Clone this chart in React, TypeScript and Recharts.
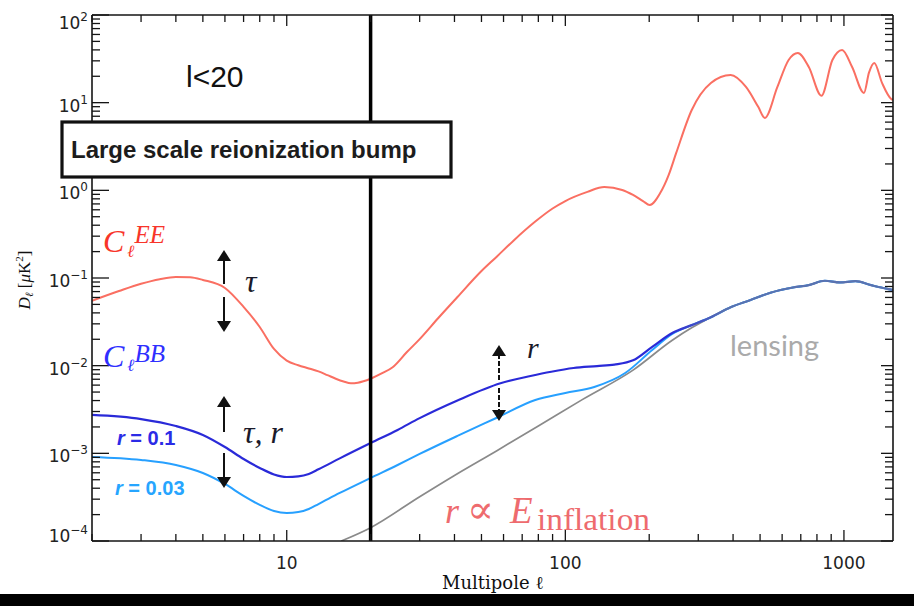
import React from 'react';
import { LineChart, Line, XAxis, YAxis, ReferenceLine } from 'recharts';

// ---------- data (multipole ell, D_ell in muK^2) ----------
const eeEll = [2, 2.5, 3, 3.5, 4, 4.5, 5, 6, 7, 8, 9, 10, 11, 12, 13, 14, 15, 16, 17, 18, 20, 22, 24, 27, 30, 35, 41, 50, 56.6, 65, 78, 90, 100, 120, 138, 160, 175, 190, 201, 219, 235, 250, 284, 333, 392, 445, 493, 520, 577, 633, 683, 748, 830, 909, 985, 1070, 1180, 1230, 1285, 1370, 1480, 1500];
const eeVal = [0.055, 0.071, 0.086, 0.097, 0.103, 0.102, 0.095, 0.077, 0.0468, 0.0276, 0.0155, 0.0114, 0.0101, 0.0093, 0.0086, 0.0078, 0.0071, 0.0066, 0.0063, 0.0064, 0.0071, 0.0082, 0.0096, 0.0143, 0.0201, 0.035, 0.0607, 0.120, 0.174, 0.265, 0.44, 0.62, 0.755, 0.96, 1.09, 1.01, 0.885, 0.755, 0.68, 0.93, 1.5, 2.67, 8.2, 16.8, 20.7, 15.1, 8.9, 6.7, 15.1, 30.7, 36.9, 25.5, 12.0, 30.7, 40, 25.5, 12.9, 22, 28.4, 16.8, 11.0, 10.8];

const bb01Ell = [2, 3, 4, 5, 6, 7, 8, 9, 10, 11, 12, 13, 15.5, 20, 25, 30, 41, 58.5, 75, 89, 107, 130, 150, 175, 205, 242, 284, 333, 392, 460, 545, 657, 748, 854, 967, 1100, 1250, 1330, 1500];
const bb01Val = [0.00274, 0.00246, 0.00205, 0.00162, 0.00118, 0.000863, 0.000681, 0.000574, 0.000537, 0.000546, 0.000582, 0.000657, 0.000876, 0.00131, 0.00185, 0.00252, 0.00401, 0.0063, 0.00762, 0.00853, 0.0094, 0.0099, 0.0103, 0.0115, 0.0164, 0.0236, 0.029, 0.0357, 0.0464, 0.0558, 0.068, 0.078, 0.083, 0.093, 0.089, 0.092, 0.083, 0.079, 0.073];

const bb003Ell = [2, 3, 4, 5, 6, 7, 8, 9, 10, 11, 12, 13, 15.5, 20, 25, 30, 41, 56.5, 78, 100, 127, 164, 205, 242, 284, 333, 392, 460, 545, 657, 748, 854, 967, 1100, 1250, 1330, 1500];
const bb003Val = [0.000909, 0.00084, 0.000736, 0.000597, 0.000447, 0.000327, 0.000258, 0.00022, 0.000209, 0.000214, 0.000232, 0.000264, 0.000353, 0.000524, 0.000736, 0.000984, 0.00158, 0.00253, 0.00406, 0.00488, 0.00571, 0.00824, 0.0151, 0.023, 0.029, 0.0357, 0.0464, 0.0558, 0.068, 0.078, 0.083, 0.093, 0.089, 0.092, 0.083, 0.079, 0.073];

const lensEll = [15.7, 20, 30, 40, 57, 80, 115, 175, 242, 284, 333, 392, 460, 545, 657, 748, 854, 967, 1100, 1250, 1330, 1500];
const lensVal = [0.0001, 0.000142, 0.00032, 0.00056, 0.00108, 0.00205, 0.0041, 0.0089, 0.0195, 0.027, 0.0357, 0.0464, 0.0558, 0.068, 0.078, 0.083, 0.093, 0.089, 0.092, 0.083, 0.079, 0.073];

// tick values
const xDecades = [1, 10, 100];
const xMajorLabels = [10, 100, 1000];
const yDecades = [1e-4, 1e-3, 1e-2, 1e-1, 1, 10];
const yTop = 100;
const minorMult = [1, 2, 3, 4, 5, 6, 7, 8, 9];

const xTicks: number[] = [];
xDecades.forEach((d) => minorMult.forEach((m) => { const v = m * d; if (v >= 2) xTicks.push(v); }));
xTicks.push(1000);
const yTicks: number[] = [];
yDecades.forEach((d) => minorMult.forEach((m) => yTicks.push(m * d)));
yTicks.push(yTop);

const toRows = (ell: number[], val: number[]) => ell.map((l, i) => ({ l, v: val[i] }));
const eeData = toRows(eeEll, eeVal);
const bb01Data = toRows(bb01Ell, bb01Val);
const bb003Data = toRows(bb003Ell, bb003Val);
const lensData = toRows(lensEll, lensVal);

const isMajor = (v: number) => Math.abs(Math.log10(v) - Math.round(Math.log10(v))) < 1e-6;
const AX = '#151515';
const TICKFONT = '"DejaVu Sans", Verdana, sans-serif';

const BottomTick = (p: any) => {
  const { x, y, payload } = p;
  const v = payload.value;
  const major = isMajor(v);
  return (
    <g>
      <line x1={x} y1={y} x2={x} y2={y - (major ? 11 : 7)} stroke={AX} strokeWidth={1.3} />
      {major && xMajorLabels.includes(Math.round(v)) && (
        <text x={x} y={y + 28} textAnchor="middle" fontFamily={TICKFONT} fontSize={17} fill="#222">{String(Math.round(v))}</text>
      )}
    </g>
  );
};
const TopTick = (p: any) => {
  const { x, y, payload } = p;
  const major = isMajor(payload.value);
  return <line x1={x} y1={y} x2={x} y2={y + (major ? 11 : 7)} stroke={AX} strokeWidth={1.3} />;
};
const LeftTick = (p: any) => {
  const { x, y, payload } = p;
  const v = payload.value;
  const major = isMajor(v);
  const e = Math.round(Math.log10(v));
  const dy = e === 2 ? 14 : e === -4 ? 1 : 9;
  return (
    <g>
      <line x1={x} y1={y} x2={x + (major ? 17 : 8)} y2={y} stroke={AX} strokeWidth={1.3} />
      {major && (
        <text x={x - 4} y={y + dy} textAnchor="end" fontFamily={TICKFONT} fontSize={17} fill="#222">
          10<tspan fontSize={12} dy={-8}>{e < 0 ? '\u2212' + String(-e) : String(e)}</tspan>
        </text>
      )}
    </g>
  );
};
const RightTick = (p: any) => {
  const { x, y, payload } = p;
  const major = isMajor(payload.value);
  return <line x1={x} y1={y} x2={x - (major ? 12 : 8)} y2={y} stroke={AX} strokeWidth={1.3} />;
};

const Arrow = ({ x, from, to, dashed }: { x: number; from: number; to: number; dashed?: boolean }) => {
  const dir = to < from ? -1 : 1;
  const headLen = 11;
  const headW = 7;
  const base = to - dir * headLen;
  return (
    <g>
      <line x1={x} y1={from} x2={x} y2={base} stroke="#111" strokeWidth={2} strokeDasharray={dashed ? '5 2' : undefined} />
      <polygon points={`${x},${to} ${x - headW},${base} ${x + headW},${base}`} fill="#111" />
    </g>
  );
};

const SERIF = '"Liberation Serif", "DejaVu Serif", serif';
const SANS = '"Liberation Sans", Arial, sans-serif';

export default function App() {
  const axisLine = { stroke: AX, strokeWidth: 1.6 };
  return (
    <div style={{ position: 'absolute', left: 0, top: 0, width: 914, height: 606, background: '#fff', overflow: 'hidden' }}>
      <LineChart width={914} height={606} margin={{ top: 0, right: 0, bottom: 0, left: 0 }}>
        <defs>
          <linearGradient id="bbGrad" x1="0" y1="0" x2="1" y2="0">
            <stop offset="0.72" stopColor="#2a2ad8" />
            <stop offset="0.79" stopColor="#5a72b0" />
          </linearGradient>
        </defs>
        <XAxis dataKey="l" type="number" scale="log" domain={[2, 1500]} allowDataOverflow ticks={xTicks} interval={0}
          tickSize={0} tickMargin={0} tickLine={false} axisLine={axisLine} tick={(p: any) => <BottomTick {...p} />} height={65} orientation="bottom" />
        <XAxis xAxisId="t" dataKey="l" type="number" scale="log" domain={[2, 1500]} allowDataOverflow ticks={xTicks} interval={0}
          tickSize={0} tickMargin={0} tickLine={false} axisLine={axisLine} tick={(p: any) => <TopTick {...p} />} height={15} orientation="top" />
        <YAxis type="number" scale="log" domain={[1e-4, 100]} allowDataOverflow ticks={yTicks} interval={0}
          tickSize={0} tickMargin={0} tickLine={false} axisLine={axisLine} tick={(p: any) => <LeftTick {...p} />} width={92} orientation="left" />
        <YAxis yAxisId="r" type="number" scale="log" domain={[1e-4, 100]} allowDataOverflow ticks={yTicks} interval={0}
          tickSize={0} tickMargin={0} tickLine={false} axisLine={axisLine} tick={(p: any) => <RightTick {...p} />} width={21} orientation="right" />
        <Line data={lensData} dataKey="v" type="monotone" stroke="#8a8a8a" strokeWidth={1.7} dot={false} activeDot={false} isAnimationActive={false} />
        <Line data={bb003Data} dataKey="v" type="monotone" stroke="#27a0ff" strokeWidth={2} dot={false} activeDot={false} isAnimationActive={false} />
        <Line data={bb01Data} dataKey="v" type="monotone" stroke="url(#bbGrad)" strokeWidth={2.2} dot={false} activeDot={false} isAnimationActive={false} />
        <Line data={eeData} dataKey="v" type="monotone" stroke="#fa6f62" strokeWidth={2} dot={false} activeDot={false} isAnimationActive={false} />
        <ReferenceLine x={20} stroke="#000" strokeWidth={3.5} />
      </LineChart>

      <svg width={914} height={606} style={{ position: 'absolute', left: 0, top: 0, pointerEvents: 'none' }}>
        <rect x={62} y={122} width={389} height={55} fill="#fff" stroke="#111" strokeWidth={3.2} />
        <text x={71} y={158} fontFamily={SANS} fontWeight="bold" fontSize={24} fill="#1c1c1c">Large scale reionization bump</text>
        <text x={186} y={87} fontFamily={SANS} fontSize={30} fill="#111">l&lt;20</text>

        <text x={103} y={252} fontFamily={SERIF} fontStyle="italic" fontSize={32} fill="#f8352a">
          C<tspan fontSize={17} dx={3} dy={5}>ℓ</tspan><tspan fontSize={25} dy={-14}>EE</tspan>
        </text>
        <text x={103} y={367} fontFamily={SERIF} fontStyle="italic" fontSize={32} fill="#2f2fff">
          C<tspan fontSize={17} dx={3} dy={4}>ℓ</tspan><tspan fontSize={25} dy={-9}>BB</tspan>
        </text>

        <Arrow x={224} from={284} to={250} />
        <Arrow x={224} from={297} to={332} />
        <Arrow x={224} from={432} to={396} />
        <Arrow x={224} from={453} to={488} />
        <Arrow x={499} from={380} to={345} dashed />
        <Arrow x={499} from={388} to={421} dashed />

        <text x={245} y={292} fontFamily={SERIF} fontStyle="italic" fontSize={32} fill="#1a1a2a">τ</text>
        <text x={243} y={443} fontFamily={SERIF} fontStyle="italic" fontSize={32} fill="#1a1a2a">τ, r</text>
        <text x={527} y={358} fontFamily={SERIF} fontStyle="italic" fontSize={30} fill="#1a1a2a">r</text>

        <text x={117} y={445} fontFamily={SANS} fontWeight="bold" fontSize={20} fill="#2b2be6"><tspan fontStyle="italic">r</tspan> = 0.1</text>
        <text x={115} y={495} fontFamily={SANS} fontWeight="bold" fontSize={20} fill="#26a5ff"><tspan fontStyle="italic">r</tspan> = 0.03</text>

        <text x={730} y={356} fontFamily="Lato, 'Open Sans', sans-serif" fontSize={29} fill="#aaaaaa">lensing</text>

        <text x={445} y={523} fontFamily={SERIF} fontStyle="italic" fontSize={36} fill="#ee6b6e">r</text>
        <text x={467} y={523} fontFamily={SERIF} fontSize={40} fill="#ee6b6e">∝</text>
        <text x={510} y={523} fontFamily={SERIF} fontStyle="italic" fontSize={37} fill="#ee6b6e">E</text>
        <text x={537} y={530} fontFamily={SERIF} fontSize={31} fill="#ee6b6e" textLength={113} lengthAdjust="spacingAndGlyphs">inflation</text>

        <text x={493} y={589} textAnchor="middle" fontFamily={'"DejaVu Serif", serif'} fontSize={18} fill="#111">Multipole ℓ</text>
        <text transform="rotate(-90)" x={-280} y={30} textAnchor="middle" fontFamily={SERIF} fontSize={17} fill="#111">
          <tspan fontStyle="italic">D</tspan><tspan fontSize={11} dy={3} fontStyle="italic">ℓ</tspan><tspan dy={-3}> [</tspan><tspan fontStyle="italic">μ</tspan>K<tspan fontSize={11} dy={-7}>2</tspan><tspan dy={7}>]</tspan>
        </text>
      </svg>
      <div style={{ position: 'absolute', left: 0, top: 594, width: 914, height: 12, background: '#000' }} />
    </div>
  );
}
